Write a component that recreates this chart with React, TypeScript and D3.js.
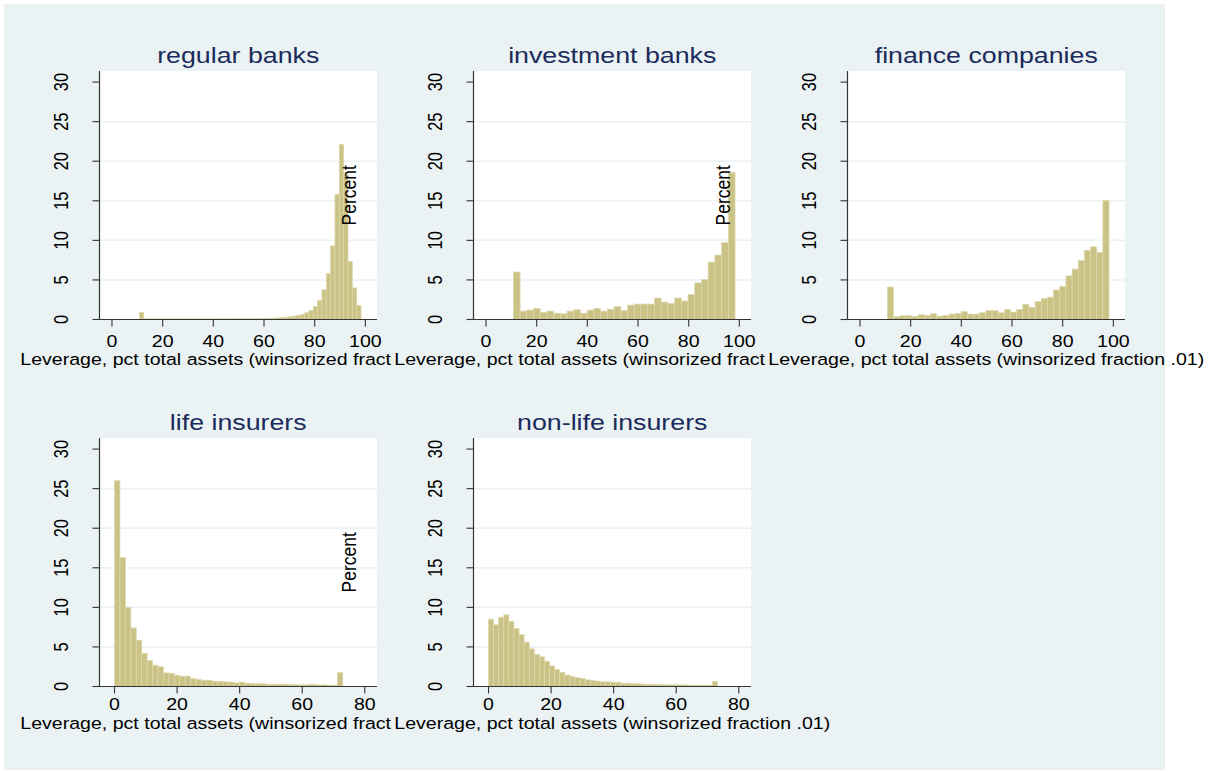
import React from "react";
import * as d3 from "d3";

// Histogram heights (percent of firms per bin), one array per sector
const regularBanks = [
  0.9,
  0.08, 0.07, 0.08, 0.08, 0.07, 0.08, 0.08, 0.08, 0.07, 0.08, 0.08, 0.08,
  0.08, 0.09, 0.08, 0.09, 0.09, 0.09, 0.1, 0.09, 0.1, 0.1, 0.11,
  0.11, 0.12, 0.12, 0.13, 0.14, 0.15,
  0.17, 0.19, 0.22, 0.26, 0.33, 0.42, 0.53, 0.65, 0.85, 1.12, 1.65, 2.4,
  3.75, 5.8, 9.3, 15.8, 22.1, 18.4, 7.3, 4.0, 1.75,
];
const investmentBanks = [
  6.0, 1.06, 1.19, 1.4, 0.89, 1.06, 0.8, 0.72, 1.06, 1.23, 0.8, 1.19, 1.4,
  1.06, 1.31, 1.65, 1.14, 1.82, 1.95, 1.95, 1.95, 2.71, 2.2, 2.03, 2.71,
  2.33, 3.18, 4.62, 5.04, 7.25, 8.14, 9.7, 18.6,
];
const financeCompanies = [
  4.1, 0.34, 0.47, 0.47, 0.38, 0.6, 0.51, 0.73, 0.43, 0.51, 0.68, 0.77,
  0.98, 0.68, 0.68, 0.85, 1.11, 1.11, 0.85, 1.28, 0.94, 1.28, 1.92, 1.54,
  2.26, 2.65, 2.82, 3.72, 4.15, 5.51, 6.37, 7.44, 8.72, 9.19, 8.46, 15.04,
];
const lifeInsurers = [
  26.0, 16.3, 10.0, 7.4, 5.85, 4.2, 3.3, 2.7, 2.5, 1.72, 1.68, 1.43, 1.3,
  1.3, 1.0, 0.88, 0.8, 0.8, 0.67, 0.63, 0.59, 0.55, 0.46, 0.55, 0.42, 0.34,
  0.34, 0.34, 0.29, 0.29, 0.29, 0.29, 0.25, 0.21, 0.21, 0.21, 0.29, 0.21,
  0.21, 0.17, 0.17, 1.75,
];
const nonLifeInsurers = [
  8.5, 7.8, 8.75, 9.05, 8.25, 7.35, 6.55, 5.6, 4.75, 4.03, 3.75, 3.2, 2.6,
  2.15, 1.8, 1.45, 1.27, 1.1, 1.0, 0.84, 0.76, 0.68, 0.59, 0.59, 0.55, 0.55,
  0.42, 0.42, 0.34, 0.34, 0.3, 0.25, 0.25, 0.25, 0.21, 0.21, 0.21, 0.21,
  0.21, 0.17, 0.17, 0.17, 0.17, 0.17, 0.65,
];

// Range of the leverage variable covered by the bins of each sector
const binLow = [10.8, 10.8, 10.8, 0, 0];
const binHigh = [98.3, 98.3, 98.3, 72.96, 73.2];

const panelTitles = [
  "regular banks",
  "investment banks",
  "finance companies",
  "life insurers",
  "non-life insurers",
];
const yTicks = [0, 5, 10, 15, 20, 25, 30];
const gridTicks = [5, 10, 15, 20, 25];
const xTicksBanks = [0, 20, 40, 60, 80, 100];
const xTicksInsurers = [0, 20, 40, 60, 80];
const xAxisTitle = "Leverage, pct total assets (winsorized fraction .01)";
const yAxisTitle = "Percent";

const W = 1214;
const H = 773;
const BG = "#eaf2f3";
const BAR = "#cbc386";
const BAR_EDGE = "#ddd8ab";
const AXIS = "#333333";
const TITLE = "#1b2b5c";
const FONT = "'Liberation Sans', Arial, Helvetica, sans-serif";
const SX = 1.2; // horizontal text stretch

const plotW = 277.5;
const plotH = 248.5;
const colLeft = (c: number) => 99.5 + c * 374;
const rowTop = [71, 438];
const tickLabelY = [346.5, 710];
const axisTitleY = [365, 729];

type Panel = {
  values: number[];
  title: string;
  row: number;
  col: number;
  xTicks: number[];
  xDomain: [number, number];
  lo: number;
  hi: number;
};

const series = [regularBanks, investmentBanks, financeCompanies, lifeInsurers, nonLifeInsurers];

const panels: Panel[] = series.map((values, i) => {
  const row = i < 3 ? 0 : 1;
  const col = i < 3 ? i : i - 3;
  const banks = row === 0;
  return {
    values,
    title: panelTitles[i],
    row,
    col,
    xTicks: banks ? xTicksBanks : xTicksInsurers,
    xDomain: banks ? [-4.93, 104.6] : [-4.8, 83.9],
    lo: binLow[i],
    hi: binHigh[i],
  };
});

function PanelView({ p }: { p: Panel }) {
  const left = colLeft(p.col);
  const top = rowTop[p.row];
  const bottom = top + plotH;
  const x = d3.scaleLinear().domain(p.xDomain).range([left, left + plotW]);
  const y = d3.scaleLinear().domain([0, 31.4]).range([bottom, top]);
  const bw = (p.hi - p.lo) / p.values.length;
  const cx = left + plotW / 2;
  const cy = top + plotH / 2;
  const labelX = left - 31.2;
  const cellLeft = p.col === 0 ? 4 : 392 + (p.col - 1) * 374;
  const cellTop = p.row === 0 ? 4 : 385;
  const cellBottom = p.row === 0 ? 385 : 770;

  return (
    <g>
      <rect x={cellLeft} y={cellTop} width={1165 - cellLeft} height={cellBottom - cellTop} fill={BG} />
      <rect x={left} y={top} width={plotW} height={plotH} fill="#ffffff" />
      {gridTicks.map((t) => (
        <line key={t} x1={left} x2={left + plotW} y1={y(t)} y2={y(t)} stroke={BG} strokeWidth={1.5} />
      ))}
      {p.values.map((v, i) => {
        const x0 = x(p.lo + i * bw);
        const x1 = x(p.lo + (i + 1) * bw);
        return (
          <rect
            key={i}
            x={x0}
            y={y(v)}
            width={x1 - x0}
            height={y(0) - y(v)}
            fill={BAR}
            stroke={BAR_EDGE}
            strokeWidth={0.7}
          />
        );
      })}
      {/* axes */}
      <line x1={left} x2={left} y1={top} y2={bottom} stroke={AXIS} strokeWidth={1.2} />
      <line x1={left} x2={left + plotW} y1={bottom} y2={bottom} stroke={AXIS} strokeWidth={1.2} />
      {yTicks.map((t) => (
        <g key={t}>
          <line x1={left - 7} x2={left} y1={y(t)} y2={y(t)} stroke={AXIS} strokeWidth={1.1} />
          <text
            transform={`translate(${labelX},${y(t)}) scale(${SX},1) rotate(-90)`}
            textAnchor="middle"
            fontFamily={FONT}
            fontSize={16.3}
            fill="#000"
          >
            {t}
          </text>
        </g>
      ))}
      {p.xTicks.map((t) => (
        <g key={t}>
          <line x1={x(t)} x2={x(t)} y1={bottom} y2={bottom + 7} stroke={AXIS} strokeWidth={1.1} />
          <text
            transform={`translate(${x(t)},${tickLabelY[p.row]}) scale(${SX},1)`}
            textAnchor="middle"
            fontFamily={FONT}
            fontSize={16.3}
            fill="#000"
          >
            {t}
          </text>
        </g>
      ))}
      <text
        x={cx}
        y={axisTitleY[p.row]}
        textAnchor="middle"
        fontFamily={FONT}
        fontSize={16.3}
        textLength={436}
        lengthAdjust="spacingAndGlyphs"
        fill="#000"
      >
        {xAxisTitle}
      </text>
      {/* the y title sits left of the tick labels; in the first column it falls outside the page */}
      {p.col > 0 && (
        <text
          transform={`translate(${left - 118},${cy}) scale(${SX},1) rotate(-90)`}
          textAnchor="middle"
          fontFamily={FONT}
          fontSize={17.5}
          fill="#000"
        >
          {yAxisTitle}
        </text>
      )}
      <text
        transform={`translate(${cx},${top - 8.5}) scale(${SX},1)`}
        textAnchor="middle"
        fontFamily={FONT}
        fontSize={22.3}
        fill={TITLE}
      >
        {p.title}
      </text>
    </g>
  );
}

export default function App() {
  return (
    <svg
      width={W}
      height={H}
      viewBox={`0 0 ${W} ${H}`}
      style={{ position: "absolute", left: 0, top: 0, background: "#ffffff" }}
    >
      <rect x={0} y={0} width={W} height={H} fill="#ffffff" />
      <rect x={4} y={4} width={1161} height={766} fill={BG} />
      {panels.map((p, i) => (
        <PanelView key={i} p={p} />
      ))}
    </svg>
  );
}
